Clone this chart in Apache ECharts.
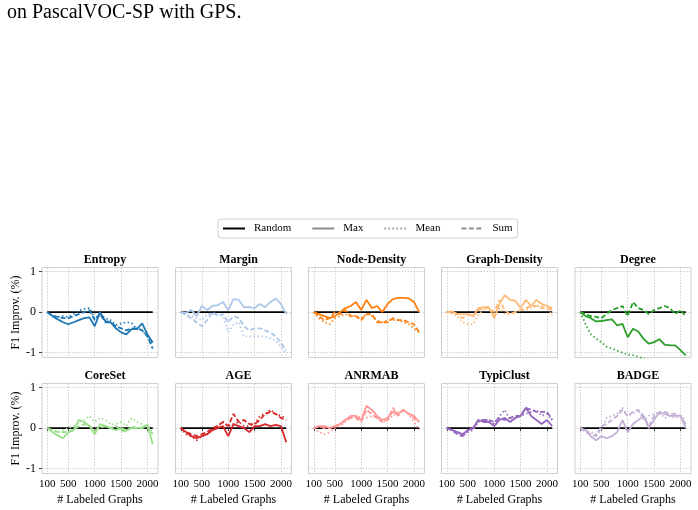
<!DOCTYPE html>
<html><head><meta charset="utf-8">
<script src="https://cdn.jsdelivr.net/npm/echarts@6/dist/echarts.min.js"></script>
<style>html,body{margin:0;padding:0;background:#fff}#c{width:698px;height:510px}</style>
</head><body><div id="c"></div>
<script>
// ---- data ----
const xValues = [100,200,300,400,500,600,700,800,900,1000,1100,1200,1300,1400,1500,1600,1700,1800,1900,2000,2100];
const xTicks = [100,500,1000,1500,2000];
const yTicks = [-1,0,1];
const methods = ['Entropy','Margin','Node-Density','Graph-Density','Degree','CoreSet','AGE','ANRMAB','TypiClust','BADGE'];
const colors = ['#1f77b4','#aec7e8','#ff7f0e','#ffbb78','#2ca02c','#98df8a','#d62728','#ff9896','#9467bd','#c5b0d5'];
const legendNames = ['Random','Max','Mean','Sum'];

const entropyMax  = [0,-0.1,-0.18,-0.25,-0.3,-0.25,-0.2,-0.15,-0.13,-0.35,0,-0.22,-0.25,-0.4,-0.5,-0.55,-0.42,-0.42,-0.28,-0.55,-0.75];
const entropyMean = [0,-0.08,-0.12,-0.1,-0.12,-0.05,0.04,0.08,0.1,-0.16,-0.05,-0.15,-0.2,-0.32,-0.28,-0.25,-0.27,-0.42,-0.45,-0.6,-0.8];
const entropySum  = [0,-0.1,-0.12,-0.15,-0.15,-0.1,-0.05,0,0.05,-0.2,-0.05,-0.25,-0.25,-0.35,-0.4,-0.45,-0.4,-0.4,-0.45,-0.6,-0.9];

const marginMax  = [0,-0.02,0.05,-0.1,0.15,0.05,0.15,0.17,0.25,0.05,0.32,0.3,0.12,0.12,0.1,0.2,0.12,0.25,0.33,0.2,-0.05];
const marginMean = [0,-0.05,-0.1,-0.15,-0.2,-0.05,-0.05,-0.05,-0.1,-0.5,-0.3,-0.25,-0.6,-0.6,-0.6,-0.6,-0.6,-0.65,-0.7,-0.85,-1.05];
const marginSum  = [0,-0.08,-0.15,-0.25,-0.35,-0.2,0,-0.1,-0.05,-0.25,-0.1,-0.15,-0.35,-0.45,-0.4,-0.4,-0.45,-0.5,-0.6,-0.75,-0.95];

const nodeMax  = [0,-0.05,-0.1,-0.15,-0.1,0,0.1,0.15,0.25,0.05,0.3,0.1,0.15,0,0.2,0.32,0.35,0.35,0.34,0.25,0];
const nodeMean = [0,-0.15,-0.25,-0.3,-0.15,-0.1,-0.05,-0.1,-0.1,-0.15,-0.05,-0.1,-0.2,-0.25,-0.2,-0.2,-0.2,-0.25,-0.3,-0.4,-0.5];
const nodeSum  = [0,-0.1,-0.2,-0.15,0,-0.05,0.05,-0.1,-0.1,-0.2,-0.05,-0.05,-0.25,-0.25,-0.25,-0.15,-0.2,-0.2,-0.25,-0.3,-0.5];

const graphMax  = [0,0.02,-0.05,-0.05,-0.05,-0.1,0.1,0.12,0.12,-0.15,0.2,0.42,0.3,0.28,0.1,0.3,0.15,0.3,0.2,0.15,0.1];
const graphMean = [0,-0.05,-0.1,-0.25,-0.3,-0.3,-0.05,0.05,0.1,-0.1,0.1,-0.05,-0.05,0,0.05,0.05,0.1,0.15,0.15,0.15,-0.1];
const graphSum  = [0,0,-0.05,-0.15,-0.05,-0.1,0.05,0.1,0.1,0,0.3,0.05,-0.05,0,0.05,0.1,0.15,0.15,0.1,0.1,0.05];

const degreeMax  = [0,-0.1,-0.15,-0.23,-0.22,-0.2,-0.18,-0.33,-0.29,-0.62,-0.41,-0.48,-0.66,-0.78,-0.74,-0.67,-0.8,-0.82,-0.82,-0.94,-1.07];
const degreeMean = [0,-0.3,-0.55,-0.65,-0.75,-0.85,-0.9,-0.95,-1.0,-1.05,-1.06,-1.1,-1.15,-1.2,-1.25,-1.3,-1.35,-1.4,-1.45,-1.5,-1.55];
const degreeSum  = [0,-0.05,-0.1,-0.12,-0.15,-0.05,0.05,0.1,0.15,-0.1,0.25,0.1,0.05,-0.05,0.05,0.1,0.15,0.1,-0.05,0.05,-0.1];

const coresetMax  = [0,-0.1,-0.18,-0.25,-0.1,-0.05,0.2,0.15,0.05,-0.15,0.1,0.05,0,-0.05,0,-0.05,0,0,0.02,0.08,-0.4];
const coresetMean = [0,-0.05,-0.1,-0.05,0,0.05,0.15,0.2,0.3,0.15,0.25,0.2,0.1,0.1,0.15,0.05,0.25,0.15,0.1,0,-0.1];
const coresetSum  = [0,-0.05,-0.1,-0.1,-0.1,-0.05,0.05,0.1,0.05,-0.05,0,0.05,0,0.05,-0.05,-0.1,0.05,0,0,0.05,-0.15];

const ageMax  = [0,-0.1,-0.2,-0.25,-0.2,-0.15,-0.05,0,0.05,-0.2,0.1,0.05,0,-0.1,0.05,0.05,0.1,0.05,0.08,0.05,-0.35];
const ageMean = [0,-0.15,-0.2,-0.3,-0.2,-0.15,-0.05,0.05,0.15,0.05,0.1,0.15,0.05,0.05,0.1,0.3,0.35,0.45,0.35,0.3,0.25];
const ageSum  = [0,-0.1,-0.15,-0.2,-0.15,-0.1,0,0.05,0.15,0.05,0.35,0.15,0.2,0.1,0.1,0.2,0.35,0.4,0.35,0.25,0.2];

const anrmabMax  = [0,0.05,0.05,0,0.05,0.1,0.2,0.3,0.3,0.2,0.55,0.45,0.3,0.2,0.25,0.4,0.35,0.45,0.35,0.3,0.15];
const anrmabMean = [0,-0.1,-0.15,-0.1,0,0.05,0.15,0.25,0.3,0.25,0.25,0.3,0.25,0.15,0.2,0.3,0.4,0.45,0.35,0.15,-0.05];
const anrmabSum  = [0,0.05,0,0,0.05,0.1,0.2,0.25,0.25,0.15,0.45,0.35,0.25,0.15,0.2,0.5,0.3,0.45,0.35,0.25,0.15];

const typiMax  = [0,-0.05,-0.1,-0.15,-0.05,0,0.2,0.15,0.15,0.05,0.2,0.25,0.15,0.25,0.3,0.5,0.3,0.2,0.1,0.2,0.05];
const typiMean = [0,-0.05,-0.1,-0.2,-0.1,-0.05,0.15,0.2,0.2,0.1,0.3,0.45,0.2,0.25,0.3,0.35,0.4,0.45,0.3,0.35,0.2];
const typiSum  = [0,-0.05,-0.15,-0.2,-0.05,0,0.2,0.2,0.2,0.15,0.25,0.2,0.25,0.3,0.3,0.5,0.45,0.4,0.4,0.4,0.2];

const badgeMax  = [0,-0.05,-0.2,-0.3,-0.2,-0.25,-0.2,-0.1,0.2,-0.1,0.1,0.2,0.3,0,0.2,0.4,0.35,0.3,0.3,0.3,0];
const badgeMean = [0,-0.05,-0.1,-0.15,-0.05,0.25,0.3,0.35,0.5,0.3,0.35,0.45,0.2,0.3,0.35,0.4,0.25,0.3,0.25,0.3,0.2];
const badgeSum  = [0,-0.1,-0.15,-0.2,0.05,0.1,0.2,0.3,0.45,0.3,0.4,0.45,0.3,0.05,0.3,0.35,0.4,0.35,0.35,0.3,0.1];

const randomY = [0,0];
const randomX = [100,2100];

const panelData = [
  [entropyMax, entropyMean, entropySum],
  [marginMax, marginMean, marginSum],
  [nodeMax, nodeMean, nodeSum],
  [graphMax, graphMean, graphSum],
  [degreeMax, degreeMean, degreeSum],
  [coresetMax, coresetMean, coresetSum],
  [ageMax, ageMean, ageSum],
  [anrmabMax, anrmabMean, anrmabSum],
  [typiMax, typiMean, typiSum],
  [badgeMax, badgeMean, badgeSum]
];

// ---- layout ----
const FONT = '"Liberation Serif", "DejaVu Serif", serif';
const colLeft = [42, 175.5, 308.5, 441.5, 575];
const panelW = 116;
const rowTop = [267.5, 383.5];
const panelH = 90;
const yMin = -1.12, yMax = 1.1;
const lineW = 1.8;
const styles = ['solid', [1.4, 2.6], [5, 2.4]];

const grids = [], xAxes = [], yAxes = [], series = [], titles = [];
methods.forEach((m, i) => {
  const r = Math.floor(i / 5), c = i % 5;
  grids.push({left: colLeft[c], top: rowTop[r], width: panelW, height: panelH,
    show: true, borderColor: '#d0d0d0', borderWidth: 1, backgroundColor: 'transparent'});
  const bottom = r === 1, leftCol = c === 0;
  xAxes.push({type: 'value', gridIndex: i, min: 0, max: 2200,
    axisLine: {show: false},
    axisTick: {show: bottom, length: 3, customValues: xTicks, lineStyle: {color: '#444'}},
    axisLabel: {show: bottom, customValues: xTicks, margin: 5, hideOverlap: false,
      formatter: v => String(v), fontFamily: FONT, fontSize: 11, color: '#000'},
    splitLine: {show: true, lineStyle: {color: '#c4c4c4', type: [1.5, 1.5], width: 0.8}},
    name: bottom ? '# Labeled Graphs' : '', nameLocation: 'middle', nameGap: 20,
    nameTextStyle: {fontFamily: FONT, fontSize: 12, color: '#000'}
  });
  yAxes.push({type: 'value', gridIndex: i, min: yMin, max: yMax,
    axisLine: {show: false},
    axisTick: {show: leftCol, length: 3, customValues: yTicks, lineStyle: {color: '#444'}},
    axisLabel: {show: leftCol, customValues: yTicks, margin: 6, fontFamily: FONT, fontSize: 12, color: '#000'},
    splitLine: {show: true, lineStyle: {color: '#c4c4c4', type: [1.5, 1.5], width: 0.8}},
    name: leftCol ? 'F1 Improv. (%)' : '', nameLocation: 'middle', nameGap: 20,
    nameTextStyle: {fontFamily: FONT, fontSize: 12, color: '#000'}
  });
  titles.push({text: m, left: colLeft[c] + panelW / 2, textAlign: 'center', top: rowTop[r] - 19,
    textStyle: {fontFamily: FONT, fontSize: 12, fontWeight: 'bold', color: '#000'}});
  series.push({type: 'line', name: m + ' Random', xAxisIndex: i, yAxisIndex: i, symbol: 'none',
    data: randomX.map((x, j) => [x, randomY[j]]), lineStyle: {color: '#000', width: 1.6}, z: 2, silent: true});
  panelData[i].forEach((arr, k) => {
    series.push({type: 'line', name: m + ' ' + legendNames[k + 1], xAxisIndex: i, yAxisIndex: i,
      symbol: 'none', clip: true,
      data: xValues.map((x, j) => [x, arr[j]]),
      lineStyle: {color: colors[i], width: lineW, type: styles[k]}, z: 3});
  });
});
// legend-only series
const legendColors = ['#000', '#8c8c8c', '#8c8c8c', '#8c8c8c'];
const legendTypes = ['solid', 'solid', [1.4, 2.6], [5, 2.4]];
legendNames.forEach((n, k) => {
  series.push({type: 'line', name: n, xAxisIndex: 0, yAxisIndex: 0, symbol: 'none', data: [],
    itemStyle: {color: legendColors[k]},
    lineStyle: {color: legendColors[k], width: 1.6, type: legendTypes[k]}});
});

const chart = echarts.init(document.getElementById('c'), null, {renderer: 'canvas'});
chart.setOption({
  animation: false,
  backgroundColor: '#fff',
  title: titles,
  grid: grids, xAxis: xAxes, yAxis: yAxes, series: series,
  legend: {data: legendNames, left: 218, top: 219, itemWidth: 22, itemHeight: 10, itemGap: 20,
    padding: [4, 5, 4, 4], borderColor: '#d0d0d0', borderWidth: 1, borderRadius: 3,
    selectedMode: false, itemStyle: {opacity: 0},
    textStyle: {fontFamily: FONT, fontSize: 11, color: '#000', padding: [0, 0, 0, 4]}},
  graphic: [{type: 'text', left: 7, top: 3,
    style: {text: 'on PascalVOC-SP with GPS.', font: '20px ' + FONT, fill: '#000'}}]
});
</script></body></html>
